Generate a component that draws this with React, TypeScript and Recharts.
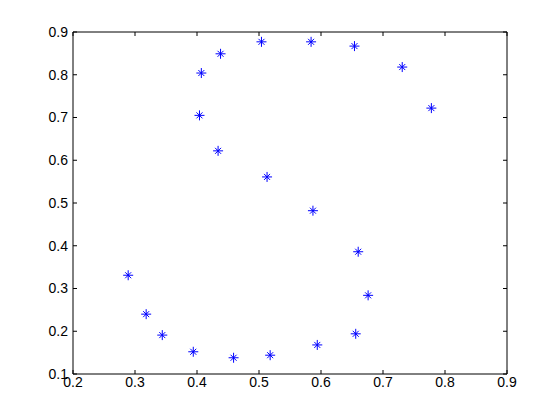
import { ScatterChart, Scatter, XAxis, YAxis } from 'recharts'

// points, in drawing order around the curve
const xValues = [
  0.289, 0.318, 0.344, 0.394, 0.459, 0.518, 0.594, 0.656, 0.676, 0.66, 0.587,
  0.513, 0.434, 0.404, 0.407, 0.438, 0.504, 0.584, 0.654, 0.731, 0.778,
]
const yValues = [
  0.331, 0.24, 0.191, 0.152, 0.138, 0.144, 0.168, 0.194, 0.284, 0.386, 0.482,
  0.561, 0.622, 0.705, 0.804, 0.849, 0.877, 0.877, 0.867, 0.818, 0.722,
]
const xTicks = [0.2, 0.3, 0.4, 0.5, 0.6, 0.7, 0.8, 0.9]
const yTicks = [0.1, 0.2, 0.3, 0.4, 0.5, 0.6, 0.7, 0.8, 0.9]

const points = xValues.map((x, i) => ({ x, y: yValues[i] }))

const font = { fontFamily: '"Liberation Sans", Arial, sans-serif', fontSize: 14, fill: '#000' }
const fmt = (v: number) => v.toFixed(1)
const blank = () => ''

function Star(props: any) {
  const { cx, cy } = props
  const r = 5
  const d = 3
  return (
    <g stroke="#0000ff" strokeWidth={1}>
      <line x1={cx - r} y1={cy} x2={cx + r} y2={cy} />
      <line x1={cx} y1={cy - r} x2={cx} y2={cy + r} />
      <line x1={cx - d} y1={cy - d} x2={cx + d} y2={cy + d} />
      <line x1={cx - d} y1={cy + d} x2={cx + d} y2={cy - d} />
    </g>
  )
}

export default function App() {
  return (
    <div style={{ position: 'absolute', left: 0, top: 0, width: 560, height: 420, background: '#fff' }}>
      <ScatterChart width={560} height={420} margin={{ top: 31, right: 52, bottom: 0, left: 0 }}>
        <XAxis
          xAxisId="bottom"
          dataKey="x"
          type="number"
          domain={[0.2, 0.9]}
          ticks={xTicks}
          allowDataOverflow
          height={46}
          stroke="#000"
          tickSize={-4}
          tickMargin={7}
          tick={font}
          tickFormatter={fmt}
        />
        <XAxis
          xAxisId="top"
          orientation="top"
          dataKey="x"
          type="number"
          domain={[0.2, 0.9]}
          ticks={xTicks}
          allowDataOverflow
          height={1}
          stroke="#000"
          tickSize={-4}
          tickFormatter={blank}
        />
        <YAxis
          yAxisId="left"
          dataKey="y"
          type="number"
          domain={[0.1, 0.9]}
          ticks={yTicks}
          allowDataOverflow
          width={73}
          stroke="#000"
          tickSize={-4}
          tickMargin={9}
          tick={font}
          tickFormatter={fmt}
        />
        <YAxis
          yAxisId="right"
          orientation="right"
          dataKey="y"
          type="number"
          domain={[0.1, 0.9]}
          ticks={yTicks}
          allowDataOverflow
          width={1}
          stroke="#000"
          tickSize={-4}
          tickFormatter={blank}
        />
        <Scatter
          data={points}
          xAxisId="bottom"
          yAxisId="left"
          shape={Star}
          isAnimationActive={false}
        />
      </ScatterChart>
    </div>
  )
}
